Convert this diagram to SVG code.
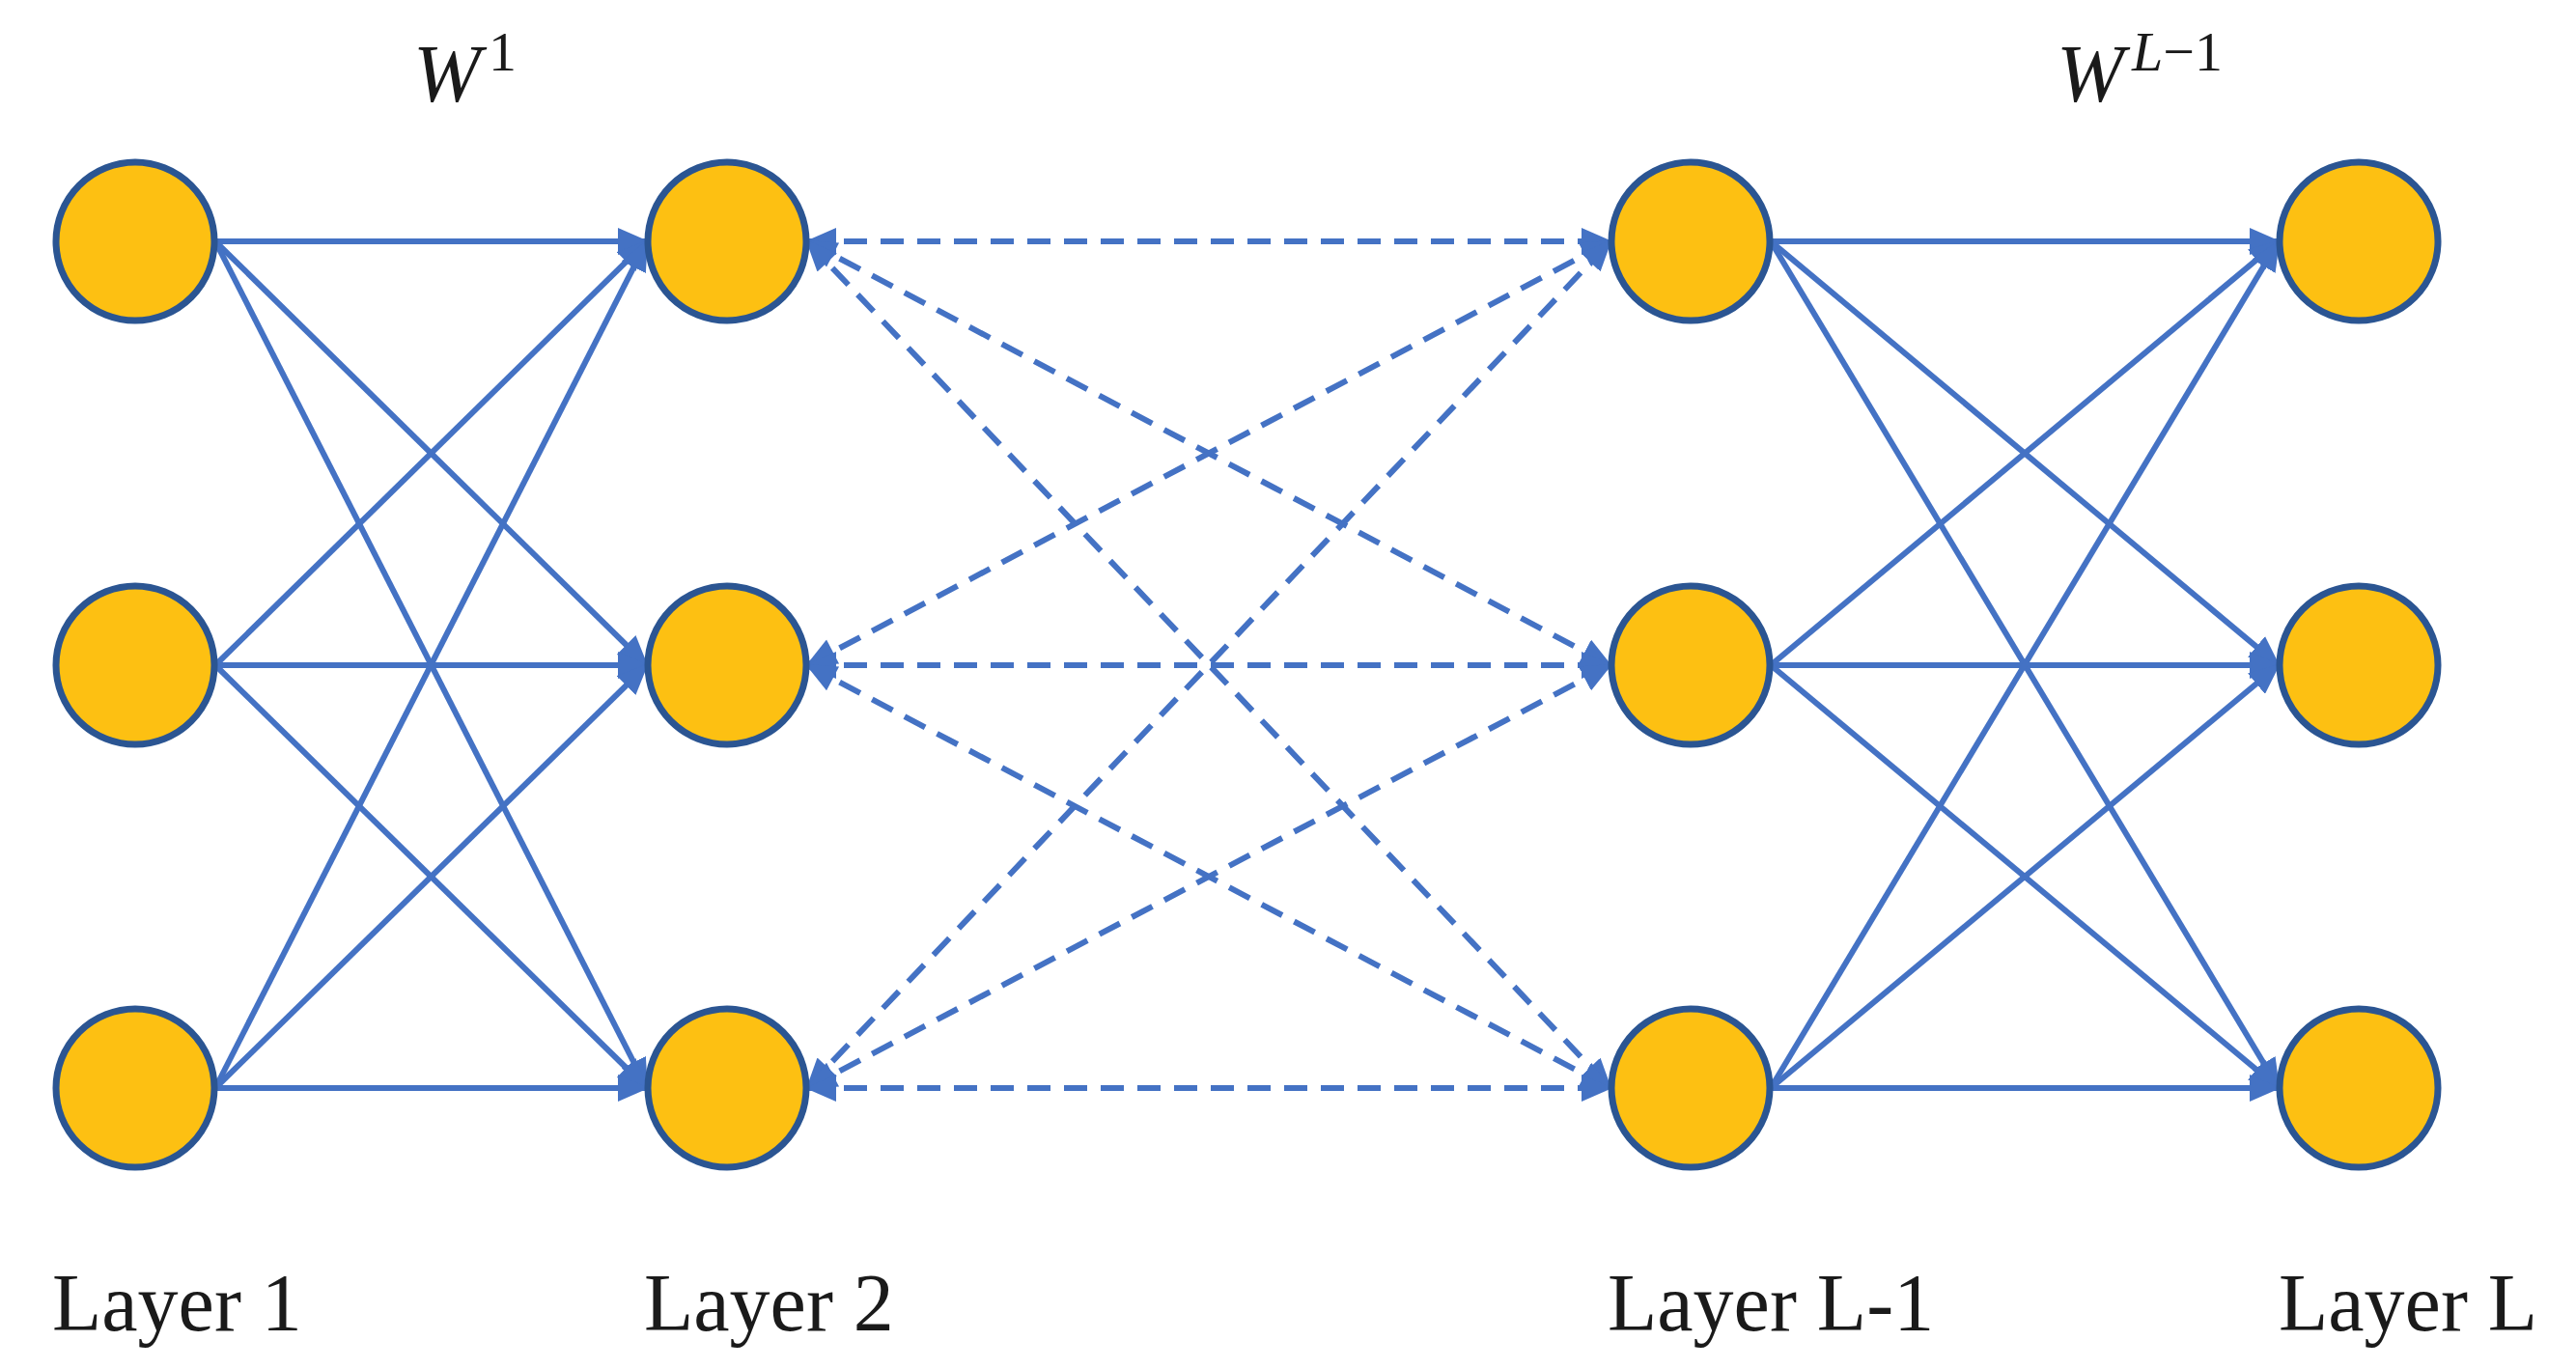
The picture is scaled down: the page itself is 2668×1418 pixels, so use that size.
<svg xmlns="http://www.w3.org/2000/svg" width="2668" height="1418" viewBox="0 0 2668 1418">
<style>
.n{fill:#FDC012;stroke:#2B5592;stroke-width:7}
.e{stroke:#4472C4;stroke-width:6;fill:none;marker-end:url(#a)}
.d{stroke:#4472C4;stroke-width:6;fill:none;stroke-dasharray:24 14;marker-end:url(#a);marker-start:url(#b)}
.t{font-family:"Liberation Serif",serif;font-size:84px;fill:#1a1a1a}
.w{font-family:"Liberation Serif",serif;font-style:italic;font-size:84px;fill:#1a1a1a}
</style>
<defs>
<marker id="a" markerUnits="userSpaceOnUse" markerWidth="34" markerHeight="28" refX="30" refY="14" orient="auto"><path d="M0,0L32,14L0,28z" fill="#4472C4"/></marker>
<marker id="b" markerUnits="userSpaceOnUse" markerWidth="34" markerHeight="28" refX="2" refY="14" orient="auto"><path d="M32,0L0,14L32,28z" fill="#4472C4"/></marker>
</defs>
<rect width="2668" height="1418" fill="#fff"/>
<g id="connectors">
<g id="solid1">
<path class="e" d="M223,250L670,250"/><path class="e" d="M223,250L670,689"/><path class="e" d="M223,250L670,1127"/>
<path class="e" d="M223,689L670,250"/><path class="e" d="M223,689L670,689"/><path class="e" d="M223,689L670,1127"/>
<path class="e" d="M223,1127L670,250"/><path class="e" d="M223,1127L670,689"/><path class="e" d="M223,1127L670,1127"/>
</g>
<g id="dashed">
<path class="d" d="M836,250L1668,250"/><path class="d" d="M836,250L1668,689"/><path class="d" d="M836,250L1668,1127"/>
<path class="d" d="M836,689L1668,250"/><path class="d" d="M836,689L1668,689"/><path class="d" d="M836,689L1668,1127"/>
<path class="d" d="M836,1127L1668,250"/><path class="d" d="M836,1127L1668,689"/><path class="d" d="M836,1127L1668,1127"/>
</g>
<g id="solid2">
<path class="e" d="M1834,250L2360,250"/><path class="e" d="M1834,250L2360,689"/><path class="e" d="M1834,250L2360,1127"/>
<path class="e" d="M1834,689L2360,250"/><path class="e" d="M1834,689L2360,689"/><path class="e" d="M1834,689L2360,1127"/>
<path class="e" d="M1834,1127L2360,250"/><path class="e" d="M1834,1127L2360,689"/><path class="e" d="M1834,1127L2360,1127"/>
</g>
</g>
<g id="l1n1"><circle class="n" cx="140" cy="250" r="82"/></g>
<g id="l1n2"><circle class="n" cx="140" cy="689" r="82"/></g>
<g id="l1n3"><circle class="n" cx="140" cy="1127" r="82"/></g>
<g id="l2n1"><circle class="n" cx="753" cy="250" r="82"/></g>
<g id="l2n2"><circle class="n" cx="753" cy="689" r="82"/></g>
<g id="l2n3"><circle class="n" cx="753" cy="1127" r="82"/></g>
<g id="lL1n1"><circle class="n" cx="1751" cy="250" r="82"/></g>
<g id="lL1n2"><circle class="n" cx="1751" cy="689" r="82"/></g>
<g id="lL1n3"><circle class="n" cx="1751" cy="1127" r="82"/></g>
<g id="lLn1"><circle class="n" cx="2443" cy="250" r="82"/></g>
<g id="lLn2"><circle class="n" cx="2443" cy="689" r="82"/></g>
<g id="lLn3"><circle class="n" cx="2443" cy="1127" r="82"/></g>
<g id="labels">
<text class="t" x="54" y="1378">Layer 1</text>
<text class="t" x="667" y="1378">Layer 2</text>
<text class="t" x="1665" y="1378">Layer L-1</text>
<text class="t" x="2360" y="1378">Layer L</text>
<text class="w" x="428" y="105">W<tspan font-style="normal" font-size="58" dx="8" dy="-32">1</tspan></text>
<text class="w" x="2130" y="105">W<tspan font-size="58" dx="8" dy="-32">L</tspan><tspan font-style="normal" font-size="58">−1</tspan></text>
</g>
</svg>
